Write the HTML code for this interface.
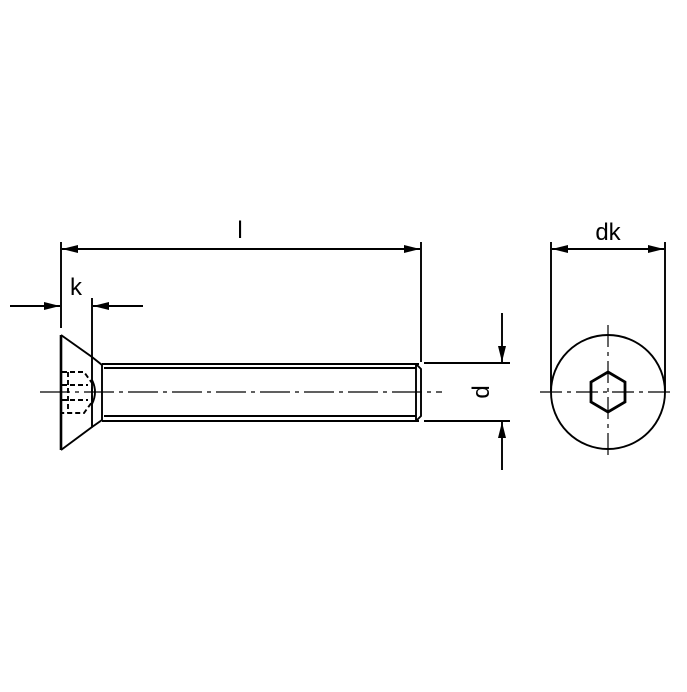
<!DOCTYPE html>
<html><head><style>html,body{margin:0;padding:0;background:#fff}</style></head>
<body>
<svg width="687" height="687" viewBox="0 0 687 687" xmlns="http://www.w3.org/2000/svg">
<defs>
<marker id="a" markerWidth="16" markerHeight="8" refX="16" refY="4" orient="auto" markerUnits="userSpaceOnUse">
<path d="M0,0 L16,4 L0,8 Z" fill="#000"/></marker>
</defs>
<g stroke="#000" fill="none" stroke-width="1.9">
<line x1="61" y1="242" x2="61" y2="328"/>
<line x1="421" y1="242" x2="421" y2="362"/>
<line x1="300" y1="249" x2="62" y2="249" marker-end="url(#a)"/>
<line x1="200" y1="249" x2="420" y2="249" marker-end="url(#a)"/>
<line x1="92" y1="298" x2="92" y2="358"/>
<line x1="10" y1="306" x2="60" y2="306" marker-end="url(#a)"/>
<line x1="143" y1="306" x2="93" y2="306" marker-end="url(#a)"/>
<path d="M61,335 L61,450" stroke-width="2.6"/>
<path d="M61,335 L92,357 L92,427 L61,450"/>
<path d="M92,357 L102,365 L102,420 L92,427"/>
<g stroke-dasharray="5,3">
<path d="M62,372 L84,372 L92,383 L92,402 L84,413 L62,413"/>
<line x1="62" y1="385" x2="88" y2="385"/>
<line x1="62" y1="400" x2="88" y2="400"/>
<line x1="68" y1="372" x2="68" y2="413"/>
</g>
<path d="M92,380 Q98,392 92,404"/>
<line x1="102" y1="364" x2="419" y2="364"/>
<line x1="102" y1="421" x2="419" y2="421"/>
<line x1="104" y1="368" x2="416" y2="368"/>
<line x1="104" y1="416" x2="416" y2="416"/>
<path d="M416,364 L421,369 L421,416 L416,421"/>
<line x1="416" y1="364" x2="416" y2="421"/>
<line x1="424" y1="363" x2="510" y2="363"/>
<line x1="424" y1="421" x2="510" y2="421"/>
<line x1="40" y1="392" x2="442" y2="392" stroke-width="1.2" stroke-dasharray="30,5,4,5"/>
<line x1="502" y1="313" x2="502" y2="362" marker-end="url(#a)"/>
<line x1="502" y1="470" x2="502" y2="422" marker-end="url(#a)"/>
<line x1="551" y1="242" x2="551" y2="392"/>
<line x1="665" y1="242" x2="665" y2="392"/>
<line x1="608" y1="249" x2="552" y2="249" marker-end="url(#a)"/>
<line x1="600" y1="249" x2="664" y2="249" marker-end="url(#a)"/>
<circle cx="608" cy="392" r="57"/>
<polygon points="608,372 625,382 625,402 608,412 591,402 591,382" stroke-width="2.8"/>
<line x1="540" y1="392" x2="675" y2="392" stroke-width="1.2" stroke-dasharray="22,5,4,5"/>
<line x1="608" y1="325" x2="608" y2="460" stroke-width="1.2" stroke-dasharray="22,5,4,5"/>
</g>
<g font-family="Liberation Sans, sans-serif" font-size="24" fill="#000">
<text x="240" y="238" text-anchor="middle">l</text>
<text x="76" y="295" text-anchor="middle">k</text>
<text x="608" y="240" text-anchor="middle">dk</text>
<text transform="translate(489,392) rotate(-90)" text-anchor="middle">d</text>
</g>
</svg>
</body></html>
